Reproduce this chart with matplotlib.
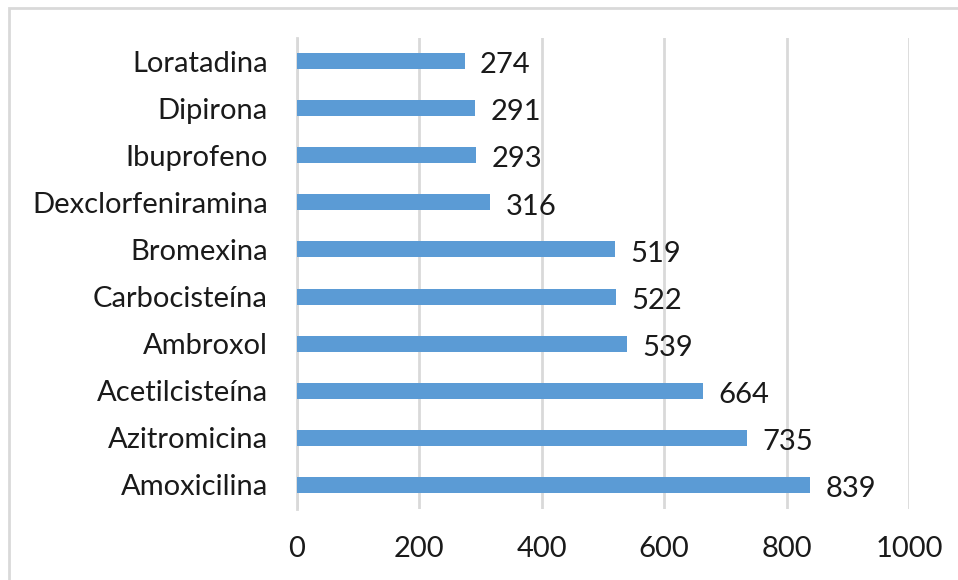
import matplotlib
matplotlib.use("Agg")
import matplotlib.pyplot as plt
from matplotlib.patches import Rectangle

categories = ["Amoxicilina", "Azitromicina", "Acetilcisteína", "Ambroxol", "Carbocisteína",
              "Bromexina", "Dexclorfeniramina", "Ibuprofeno", "Dipirona", "Loratadina"]
values = [839, 735, 664, 539, 522, 519, 316, 293, 291, 274]
xticks = [0, 200, 400, 600, 800, 1000]

plt.rcParams['font.family'] = ['Lato', 'DejaVu Sans']

W, H = 958, 580
fig = plt.figure(figsize=(W / 100, H / 100), dpi=100)
ax = fig.add_axes([297 / W, 1 - 508.5 / H, 612 / W, 471 / H])

FS = 21
y = list(range(len(categories)))
ax.barh(y, values, height=0.34, color="#5B9BD5", zorder=3)
for yi, v in zip(y, values):
    ax.annotate(str(v), (v, yi), xytext=(11, -3), textcoords="offset points",
                ha="left", va="center", fontsize=FS, color="#1a1a1a")

ax.set_xlim(0, 1000)
ax.set_ylim(-0.5, len(categories) - 0.5)
ax.set_xticks(xticks)
ax.set_xticklabels([str(t) for t in xticks])
ax.set_yticks(y)
ax.set_yticklabels(categories)
ax.tick_params(axis="both", length=0, labelsize=FS, colors="#1a1a1a")
ax.tick_params(axis="y", pad=21)
ax.tick_params(axis="x", pad=20)
ax.grid(axis="x", color="#d9d9d9", linewidth=2, zorder=0)
for s in ["top", "right", "bottom"]:
    ax.spines[s].set_visible(False)
ax.spines["left"].set_color("#d9d9d9")
ax.spines["left"].set_linewidth(2)

fig.patches.append(Rectangle((9 / W, -0.1), 1.2, 1 - 8 / H + 0.1, transform=fig.transFigure,
                             fill=False, edgecolor="#d9d9d9", linewidth=2))

fig.savefig("out.png", dpi=100)
